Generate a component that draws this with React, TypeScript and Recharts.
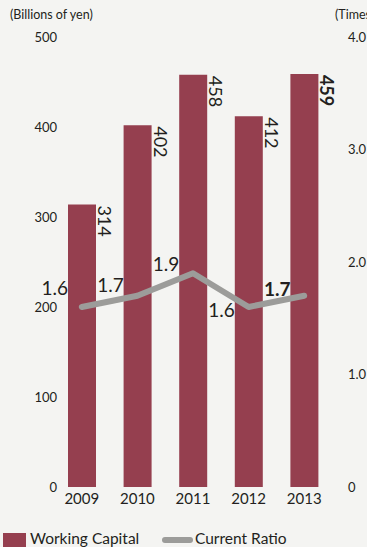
import {
  ComposedChart,
  Bar,
  Line,
  XAxis,
  YAxis,
  Legend,
  LabelList,
} from "recharts";

const years = ["2009", "2010", "2011", "2012", "2013"];
const workingCapital = [314, 402, 458, 412, 459];
const currentRatio = [1.6, 1.7, 1.9, 1.6, 1.7];
const leftTicks = [0, 100, 200, 300, 400, 500];
const rightTicks = [0, 1, 2, 3, 4];

// vertical nudges for the ratio labels so they dodge the line
const ratioLabelDy = [-18, -10, -8, 4, -6];

const BAR = "#953f4f";
const LINE = "#9c9c9a";
const TEXT = "#231f20";
const FONT = "Lato, 'Noto Sans', sans-serif";

const data = years.map((y, i) => ({
  year: y,
  wc: workingCapital[i],
  ratio: currentRatio[i],
}));

const LeftTick = (props: any) => (
  <text x={57} y={props.y} dy={4.5} textAnchor="end" fontSize={13} fill={TEXT} fontFamily={FONT}>
    {props.payload.value}
  </text>
);

const RightTick = (props: any) => (
  <text x={348} y={props.y} dy={4.5} textAnchor="start" fontSize={13} fill={TEXT} fontFamily={FONT}>
    {props.payload.value === 0 ? "0" : props.payload.value.toFixed(1)}
  </text>
);

const XTick = (props: any) => (
  <text x={props.x} y={504} textAnchor="middle" fontSize={15} fill={TEXT} fontFamily={FONT}>
    {props.payload.value}
  </text>
);

const BarValue = (props: any) => {
  const x0 = props.x + props.width + 2;
  const y0 = props.y + 1;
  return (
    <text
      x={x0}
      y={y0}
      transform={`rotate(90, ${x0}, ${y0})`}
      textAnchor="start"
      fontSize={18}
      fontWeight={props.index === 4 ? "bold" : "normal"}
      fill={TEXT}
      fontFamily={FONT}
    >
      {props.value}
    </text>
  );
};

const RatioValue = (props: any) => (
  <text
    x={props.x - 27}
    y={props.y + ratioLabelDy[props.index]}
    dy={6}
    textAnchor="middle"
    fontSize={19}
    fontWeight={props.index === 4 ? "bold" : "normal"}
    fill={TEXT}
    fontFamily={FONT}
  >
    {props.value.toFixed(1)}
  </text>
);

const LegendBox = () => (
  <div style={{ position: "relative", height: 20, fontFamily: FONT, fontSize: 15.5, color: TEXT }}>
    <div style={{ position: "absolute", left: 3, top: 8, width: 23, height: 16, background: BAR }} />
    <span style={{ position: "absolute", left: 30, top: 2, lineHeight: "22px" }}>Working Capital</span>
    <div style={{ position: "absolute", left: 162, top: 12, width: 31, height: 6, borderRadius: 3, background: LINE }} />
    <span style={{ position: "absolute", left: 195, top: 2, lineHeight: "22px" }}>Current Ratio</span>
  </div>
);

export default function App() {
  return (
    <div style={{ position: "absolute", left: 0, top: 0, width: 367, height: 547, background: "#f4f4f2", overflow: "hidden" }}>
      <ComposedChart width={367} height={547} data={data} margin={{ top: 37, right: 0, bottom: 30, left: 0 }}>
        <text x={10} y={19} fontSize={12.5} fill={TEXT} fontFamily={FONT}>(Billions of yen)</text>
        <text x={335} y={19} fontSize={12.5} fill={TEXT} fontFamily={FONT}>(Times)</text>
        <XAxis dataKey="year" height={30} axisLine={false} tickLine={false} tick={<XTick />} interval={0} />
        <YAxis
          yAxisId="left"
          width={54}
          domain={[0, 500]}
          ticks={leftTicks}
          axisLine={false}
          tickLine={false}
          tick={<LeftTick />}
        />
        <YAxis
          yAxisId="right"
          orientation="right"
          width={35}
          domain={[0, 4]}
          ticks={rightTicks}
          axisLine={false}
          tickLine={false}
          tick={<RightTick />}
        />
        <Bar yAxisId="left" dataKey="wc" name="Working Capital" fill={BAR} barSize={28} isAnimationActive={false}>
          <LabelList dataKey="wc" content={<BarValue />} />
        </Bar>
        <Line
          yAxisId="right"
          dataKey="ratio"
          name="Current Ratio"
          type="linear"
          stroke={LINE}
          strokeWidth={6}
          strokeLinecap="round"
          strokeLinejoin="round"
          dot={false}
          activeDot={false}
          isAnimationActive={false}
        >
          <LabelList dataKey="ratio" content={<RatioValue />} />
        </Line>
        <Legend
          layout="horizontal"
          verticalAlign="middle"
          align="center"
          content={<LegendBox />}
          wrapperStyle={{ left: 0, top: 525, width: 367, height: 22 }}
        />
      </ComposedChart>
    </div>
  );
}
